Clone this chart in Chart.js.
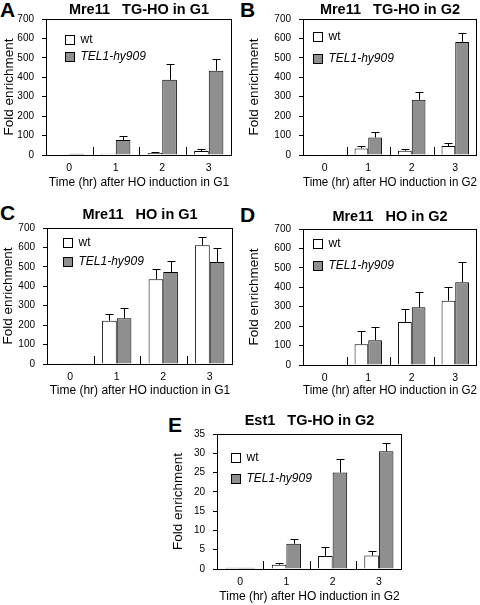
<!DOCTYPE html>
<html>
<head>
<meta charset="utf-8">
<script src="https://cdn.jsdelivr.net/npm/chart.js@4.4.0/dist/chart.umd.min.js"></script>
<style>
  body { margin: 0; background: #fff; width: 480px; height: 605px; position: relative; overflow: hidden; }
  canvas { position: absolute; }
  .letter { position: absolute; font: bold 21px 'Liberation Sans', Arial, sans-serif; line-height: 1; color: #000; }
</style>
</head>
<body>
<div class="letter" style="left:0px;top:-1px">A</div>
<div class="letter" style="left:240px;top:-1px">B</div>
<div class="letter" style="left:0px;top:202px">C</div>
<div class="letter" style="left:240px;top:204px">D</div>
<div class="letter" style="left:168px;top:414px">E</div>

<canvas id="panelA" width="240" height="200" style="left:0px;top:0px"></canvas>
<canvas id="panelB" width="240" height="200" style="left:240px;top:0px"></canvas>
<canvas id="panelC" width="240" height="205" style="left:0px;top:200px"></canvas>
<canvas id="panelD" width="240" height="205" style="left:240px;top:200px"></canvas>
<canvas id="panelE" width="300" height="210" style="left:120px;top:395px"></canvas>

<script>
// time points after HO induction (hr)
const timePoints = ['0', '1', '2', '3'];
const seriesNames = ['wt', 'TEL1-hy909'];

// y ticks
const mre11Ticks = [0, 100, 200, 300, 400, 500, 600, 700];
const est1Ticks = [0, 5, 10, 15, 20, 25, 30, 35];

// A: Mre11, TG-HO in G1
const wtA = [2, 7, 10, 20];
const wtErrA = [0, 0, 7, 12];
const telA = [6, 77, 387, 434];
const telErrA = [0, 20, 81, 58];

// B: Mre11, TG-HO in G2
const wtB = [1, 34, 22, 46];
const wtErrB = [0, 12, 10, 16];
const telB = [4, 90, 284, 582];
const telErrB = [0, 26, 38, 46];

// C: Mre11, HO in G1
const wtC = [1, 223, 436, 611];
const wtErrC = [0, 33, 53, 41];
const telC = [4, 235, 473, 525];
const telErrC = [0, 55, 57, 74];

// D: Mre11, HO in G2
const wtD = [2, 107, 221, 331];
const wtErrD = [0, 69, 69, 72];
const telD = [3, 128, 297, 426];
const telErrD = [0, 69, 77, 103];

// E: Est1, TG-HO in G2
const wtE = [0.3, 1.1, 3.4, 3.5];
const wtErrE = [0, 0.45, 2.2, 1.15];
const telE = [0.3, 6.55, 25.0, 30.5];
const telErrE = [0, 1.35, 3.5, 2.2];

Chart.defaults.font.family = "'Liberation Sans', Arial, sans-serif";
Chart.defaults.color = '#000';

// box round plot + small inward ticks between time points
const frame = {
    id: 'frame',
    afterDraw(chart) {
        const { ctx, chartArea: a, scales: { x } } = chart;
        ctx.save();
        ctx.strokeStyle = '#000';
        ctx.lineWidth = 1;
        for (let i = 1; i < x.ticks.length; i++) {
            const px = Math.round((x.getPixelForTick(i - 1) + x.getPixelForTick(i)) / 2) + 0.5;
            ctx.beginPath();
            ctx.moveTo(px, a.bottom);
            ctx.lineTo(px, a.bottom - 8);
            ctx.stroke();
        }
        ctx.strokeRect(Math.round(a.left) + 0.5, Math.round(a.top) + 0.5,
            Math.round(a.right - a.left) - 1, Math.round(a.bottom - a.top));
        ctx.restore();
    }
};

// upper error bars
const errorBars = {
    id: 'errorBars',
    afterDatasetsDraw(chart) {
        const { ctx, scales: { y } } = chart;
        ctx.save();
        ctx.strokeStyle = '#000';
        ctx.lineWidth = 1;
        chart.data.datasets.forEach((ds, di) => {
            chart.getDatasetMeta(di).data.forEach((bar, i) => {
                const e = ds.errors[i];
                if (!e) return;
                const top = Math.round(y.getPixelForValue(ds.data[i] + e)) + 0.5;
                const cx = Math.round(bar.x) + 0.5;
                ctx.beginPath();
                ctx.moveTo(cx, bar.y);
                ctx.lineTo(cx, top);
                ctx.moveTo(cx - 4, top);
                ctx.lineTo(cx + 4, top);
                ctx.stroke();
            });
        });
        ctx.restore();
    }
};

// legend inside the plot, second label in italics
const boxLegend = {
    id: 'boxLegend',
    afterDraw(chart, args, opts) {
        const { ctx, chartArea: a } = chart;
        ctx.save();
        chart.data.datasets.forEach((ds, i) => {
            const bx = Math.round(a.left + opts.dx) + 0.5;
            const cy = a.top + opts.rows[i];
            const by = Math.round(cy - 4.5) + 0.5;
            ctx.fillStyle = ds.backgroundColor;
            ctx.fillRect(bx, by, 9, 9);
            ctx.strokeStyle = '#000';
            ctx.lineWidth = 1;
            ctx.strokeRect(bx, by, 9, 9);
            ctx.fillStyle = '#000';
            ctx.font = (ds.italic ? 'italic ' : '') + "12px 'Liberation Sans', Arial, sans-serif";
            ctx.textBaseline = 'middle';
            ctx.fillText(ds.label, bx + 15, cy + 0.5);
        });
        ctx.restore();
    }
};

function makePanel(p) {
    const yMax = p.yTicks[p.yTicks.length - 1];
    return new Chart(document.getElementById(p.id), {
        type: 'bar',
        data: {
            labels: timePoints,
            datasets: [
                { label: seriesNames[0], data: p.wt, errors: p.wtErr, backgroundColor: '#ffffff',
                  borderColor: '#000', borderWidth: 1, barPercentage: 1, categoryPercentage: 0.63 },
                { label: seriesNames[1], data: p.tel, errors: p.telErr, italic: true, backgroundColor: '#8f8f8f',
                  borderColor: '#000', borderWidth: 1, barPercentage: 1, categoryPercentage: 0.63 }
            ]
        },
        options: {
            responsive: false,
            animation: false,
            layout: { padding: { top: 0, right: p.padRight, bottom: 0, left: p.padLeft || 0 } },
            plugins: {
                legend: { display: false },
                tooltip: { enabled: false },
                title: {
                    display: true,
                    text: p.title,
                    fullSize: false,
                    font: { size: 14.5, weight: 'bold' },
                    padding: { top: p.titlePad[0], bottom: p.titlePad[1] }
                },
                boxLegend: { dx: p.legend[0], rows: [p.legend[1], p.legend[2]] }
            },
            scales: {
                x: {
                    offset: true,
                    grid: { display: false, drawTicks: false },
                    border: { display: false },
                    ticks: { font: { size: 10.5 }, padding: 7, maxRotation: 0 },
                    title: { display: true, text: p.xTitle, font: { size: 12 }, padding: { top: 0, bottom: p.xTitlePad } },
                    afterFit: s => { s.height = p.xHeight; }
                },
                y: {
                    min: 0,
                    max: yMax,
                    afterBuildTicks: s => { s.ticks = p.yTicks.map(v => ({ value: v })); },
                    grid: { drawOnChartArea: false, tickLength: 4, color: '#000' },
                    border: { display: false },
                    ticks: { font: { size: 10, family: "'Liberation Sans Narrow', 'Liberation Sans', Arial, sans-serif" }, padding: 8 },
                    title: { display: true, text: 'Fold enrichment', font: { size: 13.5 }, padding: { top: p.yTitlePad, bottom: 0 } },
                    afterFit: s => { s.width = p.yWidth; }
                }
            }
        },
        plugins: [errorBars, frame, boxLegend]
    });
}

makePanel({ id: 'panelA', title: 'Mre11   TG-HO in G1', xTitle: 'Time (hr) after HO induction in G1',
    wt: wtA, wtErr: wtErrA, tel: telA, telErr: telErrA, yTicks: mre11Ticks,
    yWidth: 46, yTitlePad: 1, xHeight: 45, xTitlePad: 10, padRight: 8, titlePad: [1, 0.6], legend: [19, 20, 37] });

makePanel({ id: 'panelB', title: 'Mre11   TG-HO in G2', xTitle: 'Time (hr) after HO induction in G2',
    wt: wtB, wtErr: wtErrB, tel: telB, telErr: telErrB, yTicks: mre11Ticks,
    yWidth: 63, yTitlePad: 6, xHeight: 45, xTitlePad: 10, padRight: 3, titlePad: [1, 0.6], legend: [10, 17, 39] });

makePanel({ id: 'panelC', title: 'Mre11   HO in G1', xTitle: 'Time (hr) after HO induction in G1',
    wt: wtC, wtErr: wtErrC, tel: telC, telErr: telErrC, yTicks: mre11Ticks,
    yWidth: 47, yTitlePad: 0, xHeight: 41, xTitlePad: 7, padRight: 7, titlePad: [6.3, 4.3], legend: [16, 14, 33] });

makePanel({ id: 'panelD', title: 'Mre11   HO in G2', xTitle: 'Time (hr) after HO induction in G2',
    wt: wtD, wtErr: wtErrD, tel: telD, telErr: telErrD, yTicks: mre11Ticks,
    yWidth: 63, yTitlePad: 6, xHeight: 40, xTitlePad: 7, padRight: 3, titlePad: [8.3, 3.3], legend: [10, 14, 36] });

makePanel({ id: 'panelE', title: 'Est1   TG-HO in G2', xTitle: 'Time (hr) after HO induction in G2',
    wt: wtE, wtErr: wtErrE, tel: telE, telErr: telErrE, yTicks: est1Ticks,
    yWidth: 53, padLeft: 44, yTitlePad: 6, xHeight: 36, xTitlePad: 1, padRight: 18, titlePad: [17.3, 4.3], legend: [14, 23, 44] });
</script>
</body>
</html>
